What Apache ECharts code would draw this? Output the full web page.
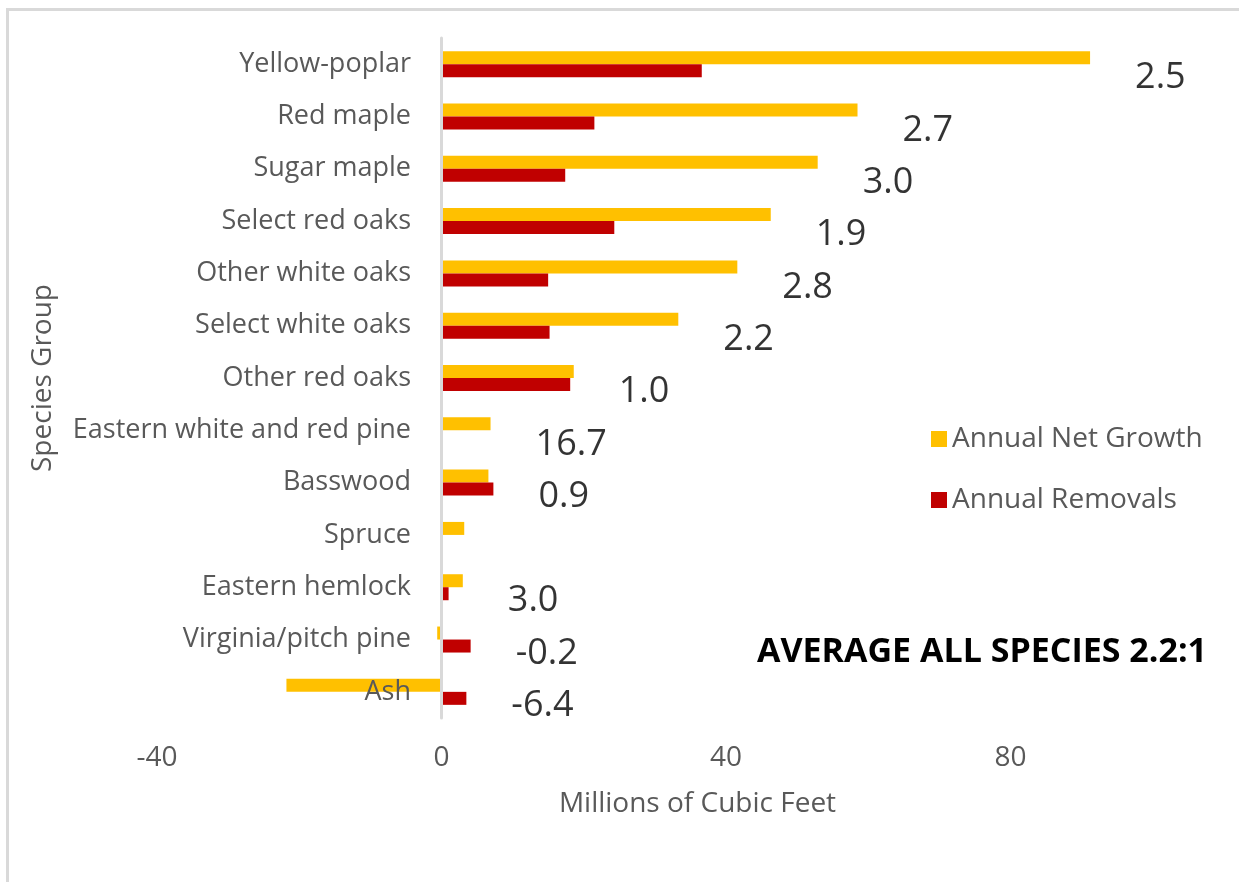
<!DOCTYPE html>
<html>
<head>
<meta charset="utf-8">
<script src="https://cdn.jsdelivr.net/npm/echarts@6/dist/echarts.min.js"></script>
<style>
  html, body { margin: 0; padding: 0; background: #fff; }
  #frame { position: absolute; left: 6px; top: 8px; width: 1300px; height: 900px;
           border-top: 3px solid #d9d9d9; border-left: 3px solid #d9d9d9; }
  #chart { position: absolute; left: 0; top: 0; width: 1239px; height: 882px; }
</style>
</head>
<body>
<div id="frame"></div>
<div id="chart"></div>
<script>
// ---- data ----
const categories = ['Yellow-poplar', 'Red maple', 'Sugar maple', 'Select red oaks', 'Other white oaks',
  'Select white oaks', 'Other red oaks', 'Eastern white and red pine', 'Basswood', 'Spruce',
  'Eastern hemlock', 'Virginia/pitch pine', 'Ash'];
const netGrowth = [91.2, 58.5, 52.9, 46.3, 41.6, 33.3, 18.6, 6.9, 6.6, 3.2, 3.0, -0.6, -21.8];
const removals  = [36.6, 21.5, 17.4, 24.3, 15.0, 15.2, 18.1, null, 7.3, null, 1.0, 4.1, 3.5];
const ratioLabels = ['2.5', '2.7', '3.0', '1.9', '2.8', '2.2', '1.0', '16.7', '0.9', '', '3.0', '-0.2', '-6.4'];
const xTicks = { min: -40, max: 112, interval: 40 };
const seriesNames = ['Annual Net Growth', 'Annual Removals'];
const averageText = 'AVERAGE ALL SPECIES 2.2:1';

const FONT = '"Open Sans", "Noto Sans", sans-serif';
const GRAY = '#595959';

const ratioData = categories.map((c, i) => {
  if (!ratioLabels[i]) return null;
  const anchor = Math.max(netGrowth[i], removals[i] || 0, 0);
  return { value: [anchor, c], ratio: ratioLabels[i] };
}).filter(d => d);

const chart = echarts.init(document.getElementById('chart'), null, { renderer: 'canvas' });
chart.setOption({
  backgroundColor: 'transparent',
  animation: false,
  textStyle: { fontFamily: FONT },
  title: {
    text: averageText,
    left: 752, top: 630,
    textStyle: { fontFamily: FONT, fontSize: 34, fontWeight: 'bold', color: '#000' }
  },
  legend: {
    data: seriesNames,
    orient: 'vertical',
    left: 926, top: 420,
    itemWidth: 16, itemHeight: 16, itemGap: 33,
    icon: 'rect',
    textStyle: { fontFamily: FONT, fontSize: 28, color: GRAY }
  },
  grid: { left: 157, right: 1, top: 38, bottom: 164, containLabel: false, outerBoundsMode: 'none' },
  xAxis: {
    type: 'value',
    min: xTicks.min, max: xTicks.max, interval: xTicks.interval,
    axisLine: { show: false }, axisTick: { show: false }, splitLine: { show: false },
    axisLabel: { color: GRAY, fontSize: 28, margin: 26, showMaxLabel: false, fontFamily: FONT },
    name: 'Millions of Cubic Feet', nameLocation: 'middle', nameGap: 72,
    nameTextStyle: { color: GRAY, fontSize: 28, fontFamily: FONT }
  },
  yAxis: {
    type: 'category', data: categories, inverse: true, z: 5,
    axisLine: { show: true, onZero: true, lineStyle: { color: '#d9d9d9', width: 3 } },
    axisTick: { show: false },
    axisLabel: { color: GRAY, fontSize: 27, margin: -254, fontFamily: FONT },
    name: 'Species Group', nameLocation: 'middle', nameGap: 100, nameMoveOverlap: false,
    nameTextStyle: { color: GRAY, fontSize: 28, fontFamily: FONT }
  },
  series: [
    {
      name: seriesNames[0], type: 'bar', data: netGrowth,
      barWidth: 13, barGap: '0%',
      itemStyle: { color: '#FFC000' }
    },
    {
      name: seriesNames[1], type: 'bar', data: removals,
      barWidth: 13, barGap: '0%',
      itemStyle: { color: '#C00000' }
    },
    {
      name: 'ratio', type: 'scatter', data: ratioData,
      symbolSize: 0, silent: true,
      label: {
        show: true, position: 'right', distance: 45, offset: [0, 14],
        formatter: p => p.data.ratio,
        color: '#000', fontSize: 36, fontFamily: FONT
      }
    }
  ]
});
</script>
</body>
</html>
